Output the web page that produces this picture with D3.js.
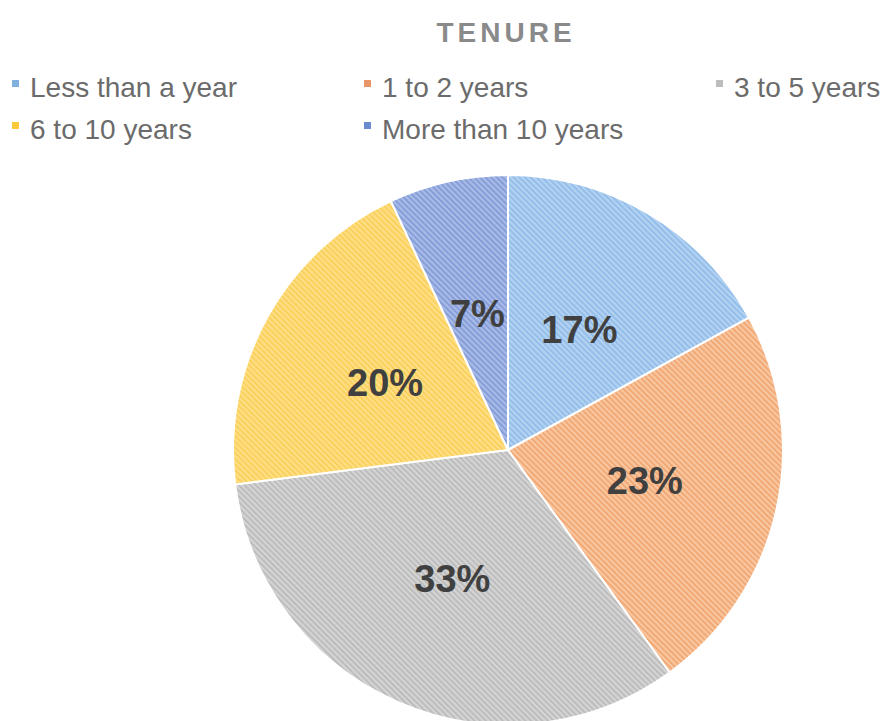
<html>
<head>
<script src="https://d3js.org/d3.v7.min.js"></script>
<style>
  body { margin: 0; background: #fff; }
  text { font-family: "Liberation Sans", Arial, sans-serif; }
</style>
</head>
<body>
<svg id="chart" width="886" height="721"></svg>
<script>
// data
var categories = ["Less than a year", "1 to 2 years", "3 to 5 years", "6 to 10 years", "More than 10 years"];
var values = [17, 23, 33, 20, 7];
var labels = ["17%", "23%", "33%", "20%", "7%"];
var baseColors = ["#b3d2f1", "#f8c6a0", "#d4d4d4", "#ffdf85", "#a8bae6"];
var stripeColors = ["#8dbae8", "#f0a36c", "#b8b8b8", "#f9cd55", "#7f98d6"];
var markerColors = ["#7fb0de", "#e8956a", "#bdbdbd", "#fbc93a", "#6a8bd0"];

var svg = d3.select("#chart");
var cx = 508, cy = 450, r = 275;

// stripe patterns
var defs = svg.append("defs");
categories.forEach(function(c, i) {
  var p = defs.append("pattern")
    .attr("id", "pat" + i)
    .attr("patternUnits", "userSpaceOnUse")
    .attr("width", 4).attr("height", 4)
    .attr("patternTransform", "rotate(-45)");
  p.append("rect").attr("width", 4).attr("height", 4).attr("fill", baseColors[i]);
  p.append("rect").attr("width", 1.6).attr("height", 4).attr("fill", stripeColors[i]);
});

// title
svg.append("text")
  .attr("x", 506).attr("y", 42)
  .attr("text-anchor", "middle")
  .attr("font-size", 28).attr("font-weight", "bold")
  .attr("letter-spacing", 4)
  .attr("fill", "#8a8a8a")
  .text("TENURE");

// legend
var legendPos = [[12, 88], [364, 88], [716, 88], [12, 130], [364, 130]];
var leg = svg.append("g").selectAll("g")
  .data(categories).enter().append("g")
  .attr("transform", function(d, i) { return "translate(" + legendPos[i][0] + "," + legendPos[i][1] + ")"; });
leg.append("rect")
  .attr("x", 0).attr("y", -8).attr("width", 7).attr("height", 7)
  .attr("fill", function(d, i) { return markerColors[i]; });
leg.append("text")
  .attr("x", 18).attr("y", 9)
  .attr("font-size", 28)
  .attr("fill", "#6b6b6b")
  .text(function(d) { return d; });

// pie
var pie = d3.pie().sort(null).value(function(d) { return d; });
var arc = d3.arc().innerRadius(0).outerRadius(r);
var labelArc = d3.arc().innerRadius(r * 0.51).outerRadius(r * 0.51);
var arcs = pie(values);

var g = svg.append("g").attr("transform", "translate(" + cx + "," + cy + ")");
g.selectAll("path")
  .data(arcs).enter().append("path")
  .attr("d", arc)
  .attr("fill", function(d, i) { return "url(#pat" + i + ")"; })
  .attr("stroke", "#fff").attr("stroke-width", 2);

g.selectAll("text.lbl")
  .data(arcs).enter().append("text")
  .attr("class", "lbl")
  .attr("transform", function(d) { return "translate(" + labelArc.centroid(d) + ")"; })
  .attr("text-anchor", "middle")
  .attr("dy", "0.36em")
  .attr("font-size", 38).attr("font-weight", "bold")
  .attr("fill", "#404040")
  .text(function(d, i) { return labels[i]; });
</script>
</body>
</html>
